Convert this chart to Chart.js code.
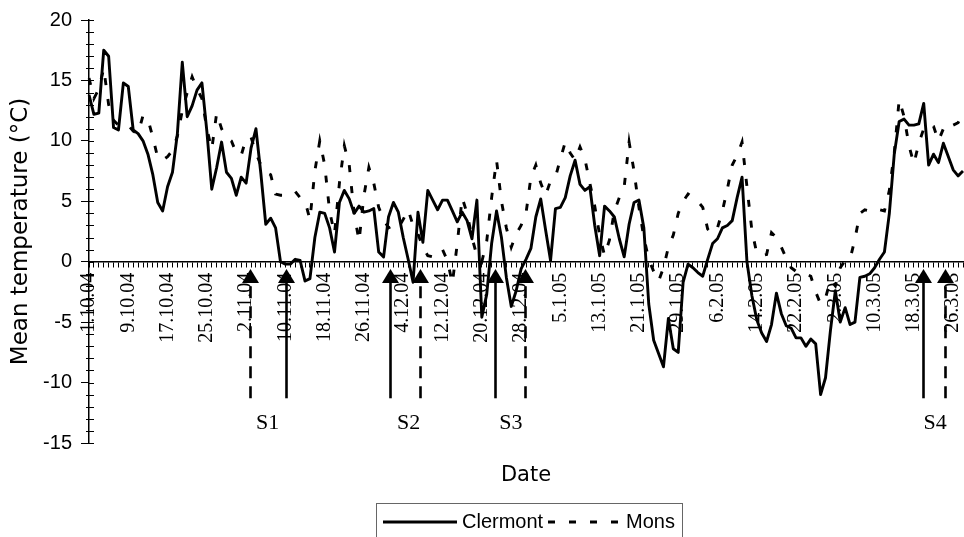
<!DOCTYPE html>
<html><head><meta charset="utf-8">
<script src="https://cdn.jsdelivr.net/npm/chart.js@4/dist/chart.umd.min.js"></script>
<style>html,body{margin:0;padding:0;background:#fff}#wrap{width:964px;height:537px;position:relative;overflow:hidden}</style>
</head><body><div id="wrap"><canvas id="c" width="964" height="537"></canvas></div>
<script>
// ---- data ----
const startYear = 2004, startMonth = 9, startDay = 1; // 1 Oct 2004
const dayCount = 179;
const categories = [];
for (let i = 0; i < dayCount; i++) {
  const d = new Date(startYear, startMonth, startDay + i);
  categories.push(d.getDate() + '.' + (d.getMonth() + 1) + '.' + String(d.getFullYear()).slice(2));
}
const tickEvery = 8;

const clermont = [13.8,12.2,12.3,17.5,17.0,11.1,10.9,14.8,14.5,10.9,
10.6,10.0,8.9,7.2,4.9,4.2,6.2,7.4,10.6,16.5,
12.0,12.9,14.2,14.8,10.8,6.0,7.8,9.9,7.4,6.9,
5.5,7.0,6.5,9.4,11.0,7.3,3.1,3.6,2.8,0.0,
-0.2,-0.2,0.2,0.1,-1.6,-1.4,2.0,4.1,4.0,2.8,
0.8,4.9,5.9,5.2,4.0,4.6,4.1,4.2,4.4,0.8,
0.4,3.7,4.9,4.1,2.0,0.2,-1.7,4.1,1.6,5.9,
5.1,4.3,5.1,5.1,4.2,3.3,4.1,3.4,1.9,5.1,
-4.6,-2.7,1.5,4.2,2.0,-1.3,-3.7,-2.4,-0.6,0.2,
1.1,3.7,5.2,2.6,0.1,4.4,4.5,5.3,7.1,8.4,
6.4,5.9,6.2,3.0,0.5,4.6,4.2,3.7,1.9,0.4,
3.1,4.9,5.1,2.8,-3.5,-6.5,-7.6,-8.7,-4.7,-7.2,
-7.5,-1.7,-0.2,-0.5,-0.9,-1.2,0.2,1.5,1.9,2.8,
3.0,3.4,5.3,7.0,0.0,-2.8,-4.8,-5.9,-6.6,-5.2,
-2.6,-4.3,-5.3,-5.5,-6.3,-6.3,-7.0,-6.4,-6.8,-11.0,
-9.6,-5.7,-2.4,-5.0,-3.8,-5.2,-5.0,-1.3,-1.2,-1.0,
-0.5,0.2,0.8,4.0,8.9,11.6,11.8,11.3,11.3,11.4,
13.1,8.0,8.9,8.2,9.8,8.7,7.6,7.1,7.5];

const mons = [15.2,13.5,14.3,16.0,13.0,11.7,11.3,11.4,11.3,10.8,
10.6,12.1,11.8,10.3,8.6,8.4,8.7,9.2,10.4,12.5,
14.0,15.3,14.3,13.5,11.0,9.3,12.3,11.0,10.3,10.0,
9.0,8.8,10.2,10.3,9.0,8.0,7.4,7.2,5.6,5.5,
5.5,5.6,5.8,5.3,5.0,3.5,7.5,10.0,8.0,4.2,
2.3,6.5,9.6,8.0,4.0,1.7,5.5,7.8,6.5,4.5,
3.5,2.8,3.0,2.8,3.5,4.3,3.0,2.3,1.2,0.5,
0.4,0.5,1.0,0.1,-1.8,1.5,5.3,4.0,2.0,0.5,
0.0,1.7,5.3,8.4,5.0,2.8,1.2,2.3,3.0,4.0,
7.0,8.0,6.5,5.5,6.7,7.0,8.5,9.9,9.0,8.4,
9.5,8.5,6.5,4.6,2.2,0.5,1.8,4.2,5.3,6.2,
9.9,7.5,4.5,2.0,0.2,-0.8,-1.6,-0.5,1.2,2.2,
4.0,5.0,5.6,5.3,5.0,4.5,2.7,2.3,2.8,4.2,
6.0,8.0,8.8,9.9,6.2,2.6,0.7,0.5,0.6,2.4,
2.0,1.2,0.3,-0.5,-0.8,-0.9,-1.0,-1.2,-2.5,-3.5,
-3.0,-1.5,-2.0,-0.5,0.1,0.2,1.9,4.0,4.3,4.2,
4.4,4.3,4.2,5.9,9.0,13.4,12.0,9.6,8.1,9.8,
11.0,11.4,11.2,10.0,11.0,11.5,11.3,11.5,12.3];

const yMin = -15, yMax = 20, yMajorStep = 5, yMinorStep = 1;

// sampling arrows (positions in day index along the category axis)
const arrowSolidDays = [40.1, 61.3, 82.6, 169.9];
const arrowDashedDays = [32.7, 67.4, 88.7, 174.3];
const arrowTopValue = -0.6, arrowBottomValue = -11.3;
const sampleLabels = ['S1', 'S2', 'S3', 'S4'];
const sampleLabelDays = [36.4, 65.1, 85.9, 172.3];
const sampleLabelValue = -13.4;

const seriesNames = ['Clermont', 'Mons'];
const xTitle = 'Date';
const yTitle = 'Mean temperature (°C)';

// ---- drawing ----
const DASH = [7, 14];
const extras = {
  id: 'extras',
  afterDraw(chart) {
    const ctx = chart.ctx, xs = chart.scales.x, ys = chart.scales.y, ca = chart.chartArea;
    ctx.save();
    // y axis minor / inner ticks
    ctx.strokeStyle = '#000'; ctx.lineWidth = 1;
    for (let v = yMin; v <= yMax; v += yMinorStep) {
      const py = Math.round(ys.getPixelForValue(v)) + 0.5;
      ctx.beginPath();
      if (v % yMajorStep === 0) { ctx.moveTo(ca.left, py); ctx.lineTo(ca.left + 5, py); }
      else { ctx.moveTo(ca.left - 3, py); ctx.lineTo(ca.left + 5, py); }
      ctx.stroke();
    }
    // arrows
    const yTop = ys.getPixelForValue(arrowTopValue), yBot = ys.getPixelForValue(arrowBottomValue);
    const drawArrow = (d, dashed) => {
      const x = Math.round(xs.getPixelForValue(d)) + 0.5;
      ctx.strokeStyle = '#000'; ctx.fillStyle = '#000'; ctx.lineWidth = 2.6;
      ctx.setLineDash(dashed ? [12, 8] : []);
      ctx.beginPath(); ctx.moveTo(x, yBot); ctx.lineTo(x, yTop + 12); ctx.stroke();
      ctx.setLineDash([]);
      ctx.beginPath(); ctx.moveTo(x, yTop); ctx.lineTo(x - 8.5, yTop + 14); ctx.lineTo(x + 8.5, yTop + 14); ctx.closePath(); ctx.fill();
    };
    arrowSolidDays.forEach(d => drawArrow(d, false));
    arrowDashedDays.forEach(d => drawArrow(d, true));
    // sample labels
    ctx.font = '22px "Liberation Serif"'; ctx.textAlign = 'center'; ctx.textBaseline = 'middle'; ctx.fillStyle = '#000';
    sampleLabels.forEach((s, i) => ctx.fillText(s, xs.getPixelForValue(sampleLabelDays[i]), ys.getPixelForValue(sampleLabelValue)));
    // x title
    ctx.font = '21px "DejaVu Sans"';
    ctx.fillText(xTitle, (ca.left + ca.right) / 2, 476);
    // legend
    ctx.strokeStyle = '#666'; ctx.lineWidth = 1;
    ctx.strokeRect(376.5, 503.5, 306, 60);
    const ly = 522;
    ctx.strokeStyle = '#000'; ctx.lineWidth = 3;
    ctx.beginPath(); ctx.moveTo(383, ly); ctx.lineTo(457, ly); ctx.stroke();
    ctx.setLineDash(DASH);
    ctx.beginPath(); ctx.moveTo(548, ly); ctx.lineTo(621, ly); ctx.stroke();
    ctx.setLineDash([]);
    ctx.font = '20px "Liberation Sans"'; ctx.textAlign = 'left';
    ctx.fillText(seriesNames[0], 462, ly);
    ctx.fillText(seriesNames[1], 626, ly);
    ctx.restore();
  }
};

new Chart(document.getElementById('c'), {
  type: 'line',
  data: {
    labels: categories,
    datasets: [
      { label: seriesNames[0], data: clermont, borderColor: '#000', borderWidth: 2.9, pointRadius: 0, tension: 0, fill: false, borderJoinStyle: 'round' },
      { label: seriesNames[1], data: mons, borderColor: '#000', borderWidth: 2.9, borderDash: DASH, pointRadius: 0, tension: 0, fill: false }
    ]
  },
  options: {
    responsive: false, animation: false, devicePixelRatio: 1,
    layout: { padding: { left: 0, right: 1, top: 20, bottom: 94 } },
    plugins: { legend: { display: false }, tooltip: { enabled: false } },
    scales: {
      x: {
        type: 'category', position: { y: 0 }, offset: false,
        afterFit: (s) => { s.paddingLeft = 0; s.paddingRight = 0; },
        grid: { display: true, drawOnChartArea: false, drawTicks: true, tickLength: 5, color: '#000', lineWidth: 1 },
        border: { display: true, color: '#000', width: 1.5 },
        ticks: {
          autoSkip: false, maxRotation: 90, minRotation: 90, padding: 6, color: '#000',
          font: { family: '"Liberation Serif"', size: 20 },
          callback: (v, i) => (i % tickEvery === 0 ? categories[i] : '')
        }
      },
      y: {
        min: yMin, max: yMax,
        afterFit: (s) => { s.width = 89; s.paddingTop = 0; s.paddingBottom = 0; },
        grid: { display: true, drawOnChartArea: false, drawTicks: true, tickLength: 8, color: '#000', lineWidth: 1 },
        border: { display: true, color: '#000', width: 1.5 },
        ticks: { stepSize: yMajorStep, padding: 9, color: '#000', font: { family: '"Liberation Sans"', size: 20 } },
        title: { display: true, text: yTitle, color: '#000', font: { family: '"DejaVu Sans"', size: 23 }, padding: { top: 7, bottom: 0 } }
      }
    }
  },
  plugins: [extras]
});
</script></body></html>
